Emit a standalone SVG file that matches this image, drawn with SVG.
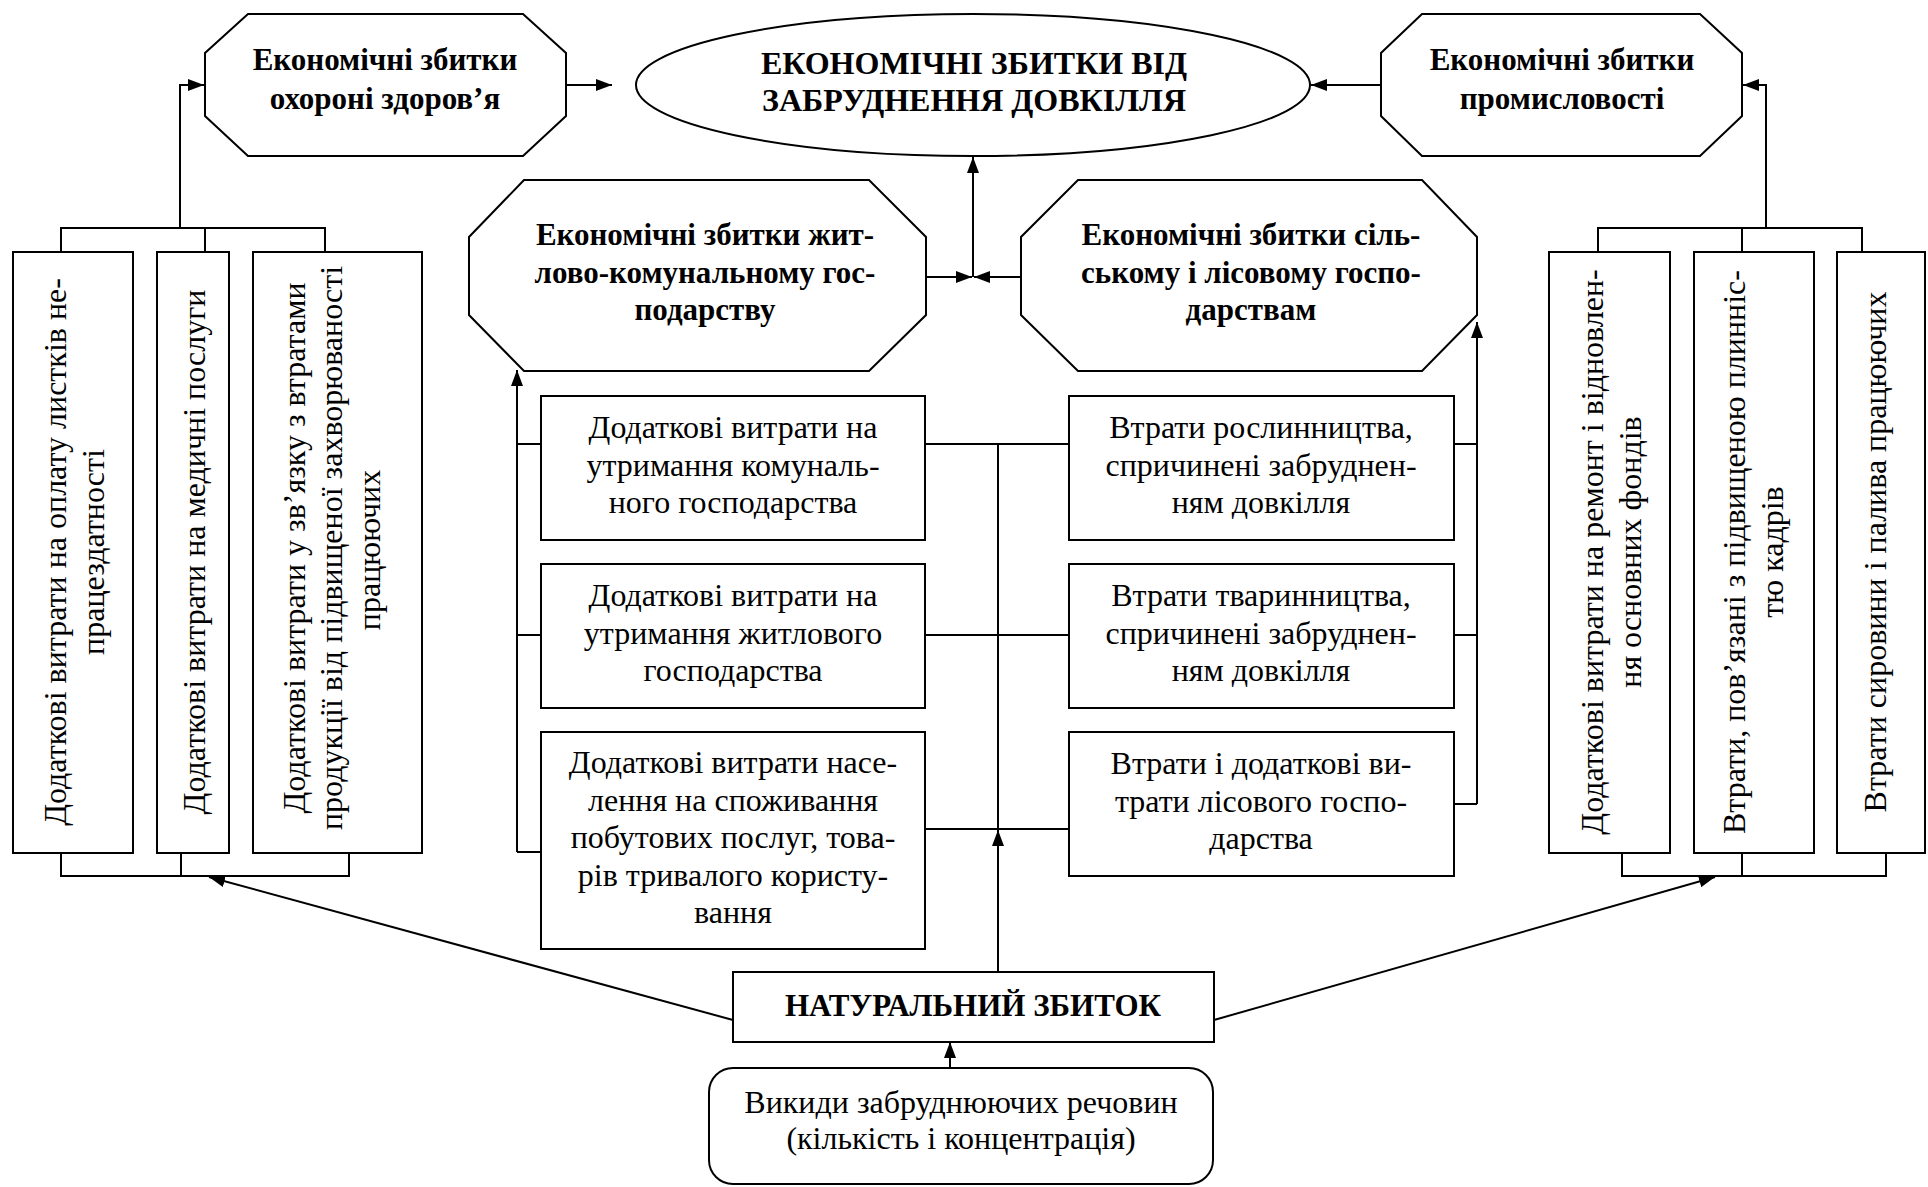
<svg xmlns="http://www.w3.org/2000/svg" width="1928" height="1187" viewBox="0 0 1928 1187">
<style>
.s{fill:#fff;stroke:#000;stroke-width:2}
.c{fill:none;stroke:#000;stroke-width:2}
.a{fill:none;stroke:#000;stroke-width:2;marker-end:url(#ah)}
.b{font-family:"Liberation Serif","Times New Roman",serif;font-weight:bold;font-size:31px;text-anchor:middle;fill:#000}
.t{font-family:"Liberation Serif","Times New Roman",serif;font-weight:bold;font-size:32px;text-anchor:middle;fill:#000}
.r{font-family:"Liberation Serif","Times New Roman",serif;font-size:32px;text-anchor:middle;fill:#000}
</style>
<defs>
<marker id="ah" markerUnits="userSpaceOnUse" markerWidth="16" markerHeight="12" refX="16" refY="6" orient="auto">
<path d="M0,0 L16,6 L0,12 z" fill="#000"/>
</marker>
</defs>
<rect width="1928" height="1187" fill="#fff"/>

<g id="connectors">
<!-- left group -->
<polyline class="c" points="61,252 61,228 325,228 325,252"/>
<line class="c" x1="205" y1="228" x2="205" y2="252"/>
<polyline class="a" points="180,228 180,85 204,85"/>
<polyline class="c" points="61,853 61,876 349,876 349,853"/>
<line class="c" x1="181" y1="853" x2="181" y2="876"/>
<line class="a" x1="733" y1="1020" x2="209" y2="877"/>
<!-- right group -->
<polyline class="c" points="1598,252 1598,228 1862,228 1862,252"/>
<line class="c" x1="1742" y1="228" x2="1742" y2="252"/>
<polyline class="a" points="1766,228 1766,85 1743,85"/>
<polyline class="c" points="1622,853 1622,876 1886,876 1886,853"/>
<line class="c" x1="1742" y1="853" x2="1742" y2="876"/>
<line class="a" x1="1214" y1="1020" x2="1715" y2="877"/>
<!-- top -->
<line class="a" x1="566" y1="85" x2="612" y2="85"/>
<line class="a" x1="1381" y1="85" x2="1311" y2="85"/>
<line class="a" x1="926" y1="277" x2="972" y2="277"/>
<line class="a" x1="1021" y1="277" x2="974" y2="277"/>
<line class="a" x1="973" y1="277" x2="973" y2="157"/>
<!-- middle left -->
<line class="a" x1="517" y1="852" x2="517" y2="370"/>
<line class="c" x1="517" y1="444" x2="541" y2="444"/>
<line class="c" x1="517" y1="635" x2="541" y2="635"/>
<line class="c" x1="517" y1="852" x2="541" y2="852"/>
<!-- middle center -->
<line class="c" x1="925" y1="444" x2="1069" y2="444"/>
<line class="c" x1="925" y1="635" x2="1069" y2="635"/>
<line class="c" x1="925" y1="829" x2="1069" y2="829"/>
<line class="c" x1="998" y1="444" x2="998" y2="829"/>
<line class="a" x1="998" y1="972" x2="998" y2="830"/>
<!-- middle right -->
<line class="a" x1="1477" y1="804" x2="1477" y2="322"/>
<line class="c" x1="1454" y1="444" x2="1477" y2="444"/>
<line class="c" x1="1454" y1="635" x2="1477" y2="635"/>
<line class="c" x1="1454" y1="804" x2="1477" y2="804"/>
<!-- emissions -->
<line class="a" x1="950" y1="1068" x2="950" y2="1042"/>
</g>

<g id="main">
<ellipse class="s" cx="973" cy="85" rx="337" ry="71"/>
<text class="t" x="974" y="74">ЕКОНОМІЧНІ ЗБИТКИ ВІД</text>
<text class="t" x="974" y="111">ЗАБРУДНЕННЯ ДОВКІЛЛЯ</text>
</g>

<g id="health">
<polygon class="s" points="248,14 523,14 566,53 566,116 523,156 248,156 205,116 205,53"/>
<text class="b" x="385" y="70">Економічні збитки</text>
<text class="b" x="385" y="109">охороні здоров’я</text>
</g>

<g id="industry">
<polygon class="s" points="1422,14 1700,14 1742,53 1742,116 1700,156 1422,156 1381,116 1381,53"/>
<text class="b" x="1562" y="70">Економічні збитки</text>
<text class="b" x="1562" y="109">промисловості</text>
</g>

<g id="housing">
<polygon class="s" points="524,180 869,180 926,237 926,315 869,371 524,371 469,315 469,237"/>
<text class="b" x="705" y="245">Економічні збитки жит-</text>
<text class="b" x="705" y="283">лово-комунальному гос-</text>
<text class="b" x="705" y="320">подарству</text>
</g>

<g id="agri">
<polygon class="s" points="1078,180 1422,180 1477,237 1477,315 1422,371 1078,371 1021,315 1021,237"/>
<text class="b" x="1251" y="245">Економічні збитки сіль-</text>
<text class="b" x="1251" y="283">ському і лісовому госпо-</text>
<text class="b" x="1251" y="320">дарствам</text>
</g>

<g id="box-l1">
<rect class="s" x="13" y="252" width="120" height="601"/>
<text class="r" transform="translate(66,552) rotate(-90)">Додаткові витрати на оплату листків не-</text>
<text class="r" transform="translate(104,552) rotate(-90)">працездатності</text>
</g>
<g id="box-l2">
<rect class="s" x="157" y="252" width="72" height="601"/>
<text class="r" transform="translate(205,552) rotate(-90)">Додаткові витрати на медичні послуги</text>
</g>
<g id="box-l3">
<rect class="s" x="253" y="252" width="169" height="601"/>
<text class="r" transform="translate(305,548) rotate(-90)">Додаткові витрати у зв’язку з втратами</text>
<text class="r" transform="translate(342,548) rotate(-90)">продукції від підвищеної захворюваності</text>
<text class="r" transform="translate(380,550) rotate(-90)">працюючих</text>
</g>

<g id="box-r1">
<rect class="s" x="1549" y="252" width="121" height="601"/>
<text class="r" transform="translate(1603,552) rotate(-90)">Додаткові витрати на ремонт і відновлен-</text>
<text class="r" transform="translate(1641,552) rotate(-90)">ня основних фондів</text>
</g>
<g id="box-r2">
<rect class="s" x="1694" y="252" width="120" height="601"/>
<text class="r" transform="translate(1745,552) rotate(-90)">Втрати, пов’язані з підвищеною плинніс-</text>
<text class="r" transform="translate(1783,552) rotate(-90)">тю кадрів</text>
</g>
<g id="box-r3">
<rect class="s" x="1837" y="252" width="88" height="601"/>
<text class="r" transform="translate(1886,552) rotate(-90)">Втрати сировини і палива працюючих</text>
</g>

<g id="mid-l1">
<rect class="s" x="541" y="396" width="384" height="144"/>
<text class="r" x="733" y="438">Додаткові витрати на</text>
<text class="r" x="733" y="476">утримання комуналь-</text>
<text class="r" x="733" y="513">ного господарства</text>
</g>
<g id="mid-l2">
<rect class="s" x="541" y="564" width="384" height="144"/>
<text class="r" x="733" y="606">Додаткові витрати на</text>
<text class="r" x="733" y="644">утримання житлового</text>
<text class="r" x="733" y="681">господарства</text>
</g>
<g id="mid-l3">
<rect class="s" x="541" y="732" width="384" height="217"/>
<text class="r" x="733" y="773">Додаткові витрати насе-</text>
<text class="r" x="733" y="811">лення на споживання</text>
<text class="r" x="733" y="848">побутових послуг, това-</text>
<text class="r" x="733" y="886">рів тривалого користу-</text>
<text class="r" x="733" y="923">вання</text>
</g>
<g id="mid-r1">
<rect class="s" x="1069" y="396" width="385" height="144"/>
<text class="r" x="1261" y="438">Втрати рослинництва,</text>
<text class="r" x="1261" y="476">спричинені забруднен-</text>
<text class="r" x="1261" y="513">ням довкілля</text>
</g>
<g id="mid-r2">
<rect class="s" x="1069" y="564" width="385" height="144"/>
<text class="r" x="1261" y="606">Втрати тваринництва,</text>
<text class="r" x="1261" y="644">спричинені забруднен-</text>
<text class="r" x="1261" y="681">ням довкілля</text>
</g>
<g id="mid-r3">
<rect class="s" x="1069" y="732" width="385" height="144"/>
<text class="r" x="1261" y="774">Втрати і додаткові ви-</text>
<text class="r" x="1261" y="812">трати лісового госпо-</text>
<text class="r" x="1261" y="849">дарства</text>
</g>

<g id="natural">
<rect class="s" x="733" y="972" width="481" height="70"/>
<text class="b" x="973" y="1016">НАТУРАЛЬНИЙ ЗБИТОК</text>
</g>

<g id="emissions">
<rect class="s" x="709" y="1068" width="504" height="116" rx="24" ry="24"/>
<text class="r" x="961" y="1113">Викиди забруднюючих речовин</text>
<text class="r" x="961" y="1149">(кількість і концентрація)</text>
</g>
</svg>
